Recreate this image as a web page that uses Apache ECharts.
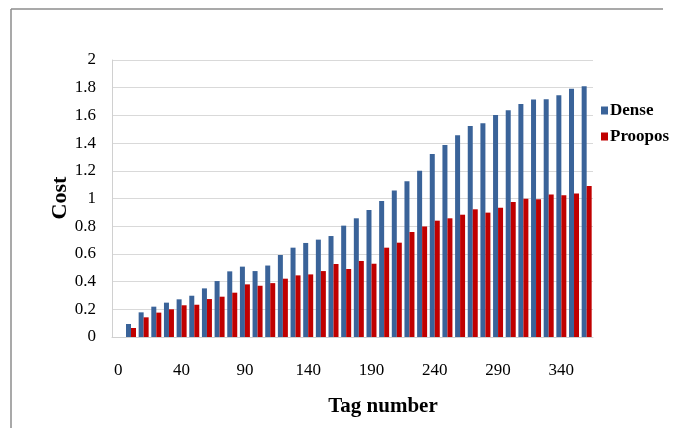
<!DOCTYPE html>
<html>
<head>
<meta charset="utf-8">
<script src="https://cdn.jsdelivr.net/npm/echarts@6/dist/echarts.min.js"></script>
<style>
html,body{margin:0;padding:0;background:#fff;}
#chart{width:680px;height:428px;}
</style>
</head>
<body>
<div id="chart"></div>
<script>
var categories = ["0","0","10","20","30","40","50","60","70","80","90","100","110","120","130","140","150","160","170","180","190","200","210","220","230","240","250","260","270","280","290","300","310","320","330","340","350","360"];
var denseValues = [null,0.094,0.178,0.219,0.248,0.272,0.298,0.351,0.404,0.474,0.508,0.476,0.516,0.592,0.645,0.679,0.703,0.729,0.804,0.857,0.917,0.982,1.057,1.124,1.200,1.321,1.386,1.456,1.523,1.543,1.603,1.637,1.682,1.714,1.716,1.745,1.793,1.810];
var proposedValues = [null,0.065,0.142,0.176,0.200,0.229,0.233,0.274,0.291,0.320,0.380,0.370,0.389,0.421,0.445,0.452,0.476,0.527,0.491,0.549,0.529,0.645,0.681,0.758,0.798,0.840,0.857,0.883,0.922,0.898,0.934,0.975,0.999,0.994,1.028,1.023,1.037,1.090];
var yTicks = [0,0.2,0.4,0.6,0.8,1,1.2,1.4,1.6,1.8,2];
var seriesNames = ["Dense","Proopos"];

var serif = "'Liberation Serif','Times New Roman',serif";
var chart = echarts.init(document.getElementById('chart'), null, {renderer:'canvas'});
chart.setOption({
  animation:false,
  backgroundColor:'#ffffff',
  grid:{left:112, right:87, top:60, bottom:91, containLabel:false},
  legend:{
    orient:'vertical', left:596, top:97,
    icon:'rect', itemWidth:7, itemHeight:8, itemGap:9,
    textStyle:{fontFamily:serif, fontWeight:'bold', fontSize:17, color:'#000', padding:[0,0,0,-3]},
    data:seriesNames
  },
  xAxis:{
    type:'category', data:categories, boundaryGap:true,
    axisLine:{show:true, lineStyle:{color:'#d0d0d0', width:1}},
    axisTick:{show:false},
    axisLabel:{interval:4, margin:25, fontFamily:serif, fontSize:17, color:'#000'}
  },
  yAxis:{
    type:'value', min:yTicks[0], max:yTicks[yTicks.length-1], interval:0.2,
    axisLine:{show:true, lineStyle:{color:'#d0d0d0', width:1}},
    axisTick:{show:false},
    splitLine:{show:true, lineStyle:{color:'#d9d9d9', width:1}},
    axisLabel:{margin:16, fontFamily:serif, fontSize:17, color:'#000',
      formatter:function(v){return String(Math.round(v*10)/10);}}
  },
  series:[
    {name:seriesNames[0], type:'bar', data:denseValues, barWidth:5, barGap:'0%',
     itemStyle:{color:'#3a6399'}},
    {name:seriesNames[1], type:'bar', data:proposedValues, barWidth:5, barGap:'0%',
     itemStyle:{color:'#c00000'}}
  ],
  graphic:[
    {type:'line', shape:{x1:11,y1:9,x2:663,y2:9}, style:{stroke:'#8c8c8c', lineWidth:1.5}, silent:true},
    {type:'line', shape:{x1:11,y1:9,x2:11,y2:428}, style:{stroke:'#8c8c8c', lineWidth:1.5}, silent:true},
    {type:'text', x:60, y:198, rotation:Math.PI/2,
     style:{text:'Cost', fontFamily:serif, fontWeight:'bold', fontSize:22, fill:'#000', textAlign:'center', textVerticalAlign:'middle'}},
    {type:'text', x:383, y:407,
     style:{text:'Tag number', fontFamily:serif, fontWeight:'bold', fontSize:21, fill:'#000', textAlign:'center', textVerticalAlign:'middle'}}
  ]
});
</script>
</body>
</html>
